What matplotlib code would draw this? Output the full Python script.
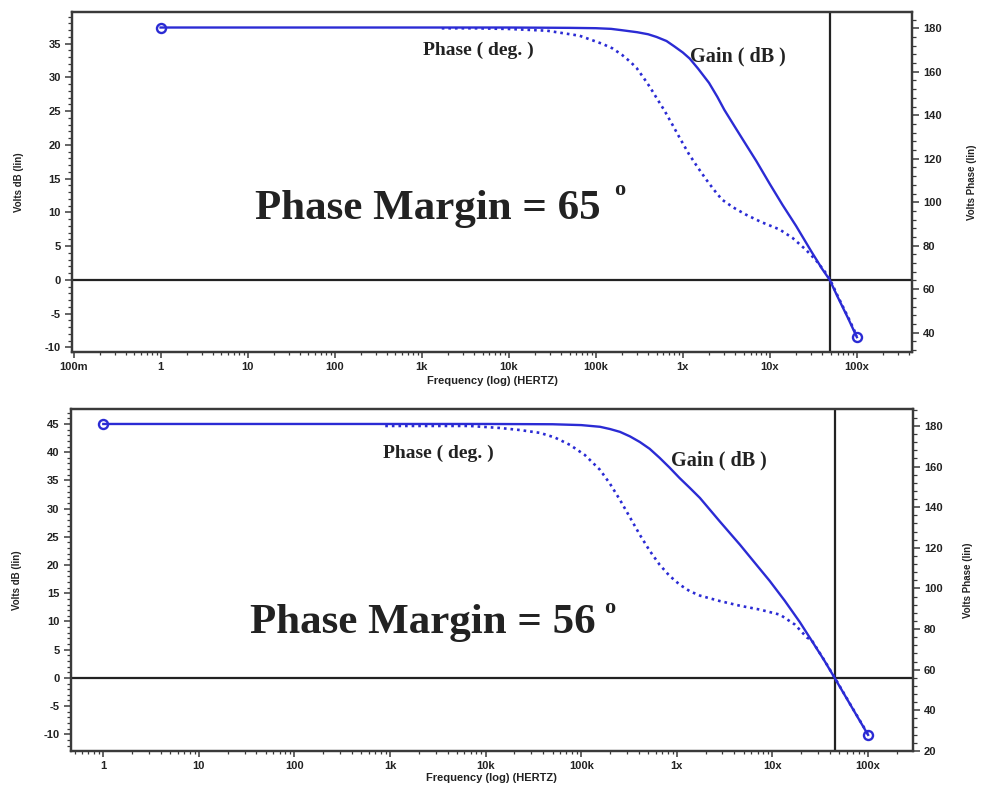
import numpy as np
import matplotlib
matplotlib.use('Agg')
import matplotlib.pyplot as plt
from matplotlib.ticker import FixedLocator, MultipleLocator, LogLocator, NullFormatter, FuncFormatter

plt.rcParams['axes.unicode_minus'] = False

# ---------------- data ----------------
decade_ticks = [0.1, 1, 10, 100, 1e3, 1e4, 1e5, 1e6, 1e7, 1e8]
decade_labels = ['100m', '1', '10', '100', '1k', '10k', '100k', '1x', '10x', '100x']

# top panel
top_gain_freq = [1, 1e3, 1e4, 5e4, 1e5, 1.5e5, 2e5, 3e5, 4e5, 5e5, 6.5e5, 8e5, 1e6, 1.2e6,
                 1.5e6, 2e6, 2.5e6, 3e6, 4e6, 5e6, 7e6, 1e7, 1.4e7, 2e7, 3e7, 4e7, 4.87e7,
                 6e7, 8e7, 1e8]
top_gain_db = [37.4, 37.4, 37.4, 37.35, 37.3, 37.2, 37.0, 36.7, 36.4, 36.0, 35.4, 34.6, 33.7, 32.8,
               31.3, 29.2, 27.1, 25.2, 22.6, 20.6, 17.6, 14.2, 11.1, 8.0, 4.2, 1.6, 0.0,
               -2.5, -5.8, -8.5]
top_phase_freq = [1.7e3, 4e3, 1e4, 2.75e4, 6.5e4, 9e4, 1.2e5, 1.55e5, 2.0e5, 2.51e5, 2.95e5,
                  3.55e5, 4.17e5, 5.01e5, 6.17e5, 7.59e5, 9.33e5, 1.17e6, 1.48e6, 1.86e6,
                  2.29e6, 2.82e6, 3.8e6, 5.25e6, 7.94e6, 1.29e7, 1.82e7, 2.57e7, 3.39e7,
                  4.37e7, 4.87e7, 6e7, 8e7, 1e8]
top_phase_deg = [180.0, 180.0, 179.7, 178.9, 176.6, 174.6, 172.8, 170.8, 167.8, 164.5, 161.7,
                 157.2, 153.1, 147.9, 142.1, 135.7, 129.2, 122.3, 116.1, 110.4,
                 105.6, 101.2, 97.6, 94.4, 90.9, 87.5, 83.6, 78.3, 73.3,
                 67.6, 64.8, 57.0, 46.8, 38.5]
top_crossover = 4.87e7
top_margin = "65"

# bottom panel
bot_gain_freq = [1, 1e3, 1e4, 5e4, 1e5, 1.57e5, 2.0e5, 2.54e5, 3.23e5, 4.1e5, 5.19e5, 6.6e5,
                 8.35e5, 1.07e6, 1.36e6, 1.74e6, 2.82e6, 4.57e6, 6.53e6, 9.34e6, 1.34e7,
                 1.93e7, 2.57e7, 3.45e7, 4.47e7, 6.76e7, 1e8]
bot_gain_db = [45.0, 45.0, 45.0, 44.95, 44.8, 44.5, 44.1, 43.6, 42.8, 41.8, 40.6, 39.0,
               37.3, 35.4, 33.7, 31.9, 27.7, 23.6, 20.4, 17.2, 13.7,
               9.9, 6.6, 3.2, 0.0, -5.2, -10.1]
bot_phase_freq = [890, 6.86e3, 1.41e4, 2.28e4, 3.7e4, 5.3e4, 7.6e4, 1.09e5, 1.57e5, 2.0e5,
                  2.54e5, 3.23e5, 4.1e5, 5.19e5, 6.6e5, 8.35e5, 1.07e6, 1.36e6, 1.74e6,
                  2.82e6, 4.57e6, 7.4e6, 1.2e7, 1.72e7, 2.3e7, 2.57e7, 3.45e7, 4.47e7,
                  6.76e7, 1e8]
bot_phase_deg = [180.0, 180.0, 179.0, 178.0, 176.6, 174.3, 170.7, 165.7, 158.4, 151.5,
                 143.6, 135.0, 126.4, 118.6, 111.7, 106.3, 101.9, 98.7, 96.5,
                 93.8, 91.5, 89.6, 87.1, 82.2, 75.8, 74.6, 65.0, 56.2,
                 41.7, 28.2]
bot_crossover = 4.47e7
bot_margin = "56"

# ---------------- drawing ----------------
W, H = 986, 785
fig = plt.figure(figsize=(W / 100, H / 100), dpi=100)

BLUE = '#2b2bd4'
SPINE = '#3a3a3a'
TXT = '#222222'
SANS = ['Liberation Sans', 'DejaVu Sans']
SERIF = ['Liberation Serif', 'DejaVu Serif']

label_map = dict(zip(decade_ticks, decade_labels))


def fmt_x(v, pos):
    for k, s in label_map.items():
        if abs(np.log10(v) - np.log10(k)) < 1e-6:
            return s
    return ''


def px_rect(l, t, r, b):
    return [l / W, 1 - b / H, (r - l) / W, (b - t) / H]


def panel(rect, xlim, ylim, ylim2, yticks_l, yticks_r,
          gf, gd, pf, pdg, xcross, margin, txt_pos):
    ax = fig.add_axes(rect)
    ax2 = ax.twinx()
    ax.set_xscale('log')
    ax.set_xlim(*xlim)
    ax.set_ylim(*ylim)
    ax2.set_ylim(*ylim2)

    # curves
    ax2.plot(pf, pdg, color=BLUE, lw=1.9, linestyle=(0, (1, 1.5)), zorder=3)
    ax.plot(gf, gd, color=BLUE, lw=1.7, zorder=3, marker='o', markevery=[0, len(gf) - 1],
            markersize=6.5, markerfacecolor='none', markeredgecolor=BLUE, markeredgewidth=1.7)
    ax.axhline(0, color='#222222', lw=1.6, zorder=2)
    ax.axvline(xcross, color='#222222', lw=1.6, zorder=2)

    # ticks
    vis_ticks = [t for t in decade_ticks if xlim[0] <= t <= xlim[1]]
    ax.xaxis.set_major_locator(FixedLocator(vis_ticks))
    ax.xaxis.set_major_formatter(FuncFormatter(fmt_x))
    ax.xaxis.set_minor_locator(LogLocator(base=10, subs=np.arange(2, 10), numticks=30))
    ax.xaxis.set_minor_formatter(NullFormatter())
    ax.yaxis.set_major_locator(FixedLocator(yticks_l))
    ax.yaxis.set_minor_locator(MultipleLocator(1))
    ax2.yaxis.set_major_locator(FixedLocator(yticks_r))
    ax2.yaxis.set_minor_locator(MultipleLocator(4))
    for a in (ax, ax2):
        a.tick_params(which='major', direction='out', length=5, width=1.1, color=SPINE,
                      labelsize=8, labelcolor=TXT, pad=3)
        a.tick_params(which='minor', direction='out', length=2.8, width=0.9, color=SPINE)
        for s in a.spines.values():
            s.set_color(SPINE)
            s.set_linewidth(1.6)
        for lab in a.get_xticklabels() + a.get_yticklabels():
            lab.set_fontfamily(SANS)
            lab.set_fontweight('bold')
    ax.tick_params(axis='x', which='major', length=4, pad=3)
    ax.tick_params(axis='x', which='minor', length=2.5)

    ax.set_ylabel('Volts dB (lin)', fontsize=7, fontweight='bold', family=SANS, color=TXT)
    ax2.set_ylabel('Volts Phase (lin)', fontsize=7, fontweight='bold', family=SANS, color=TXT)
    ax.set_xlabel('Frequency (log) (HERTZ)', fontsize=8, fontweight='bold', family=SANS, color=TXT)
    ax.yaxis.set_label_coords(txt_pos['yl'], 0.5)
    ax2.yaxis.set_label_coords(txt_pos['yr'], 0.5)
    ax.xaxis.set_label_coords(0.5, txt_pos['xl'])

    # annotations
    ax.text(*txt_pos['phase'], 'Phase ( deg. )', transform=ax.transAxes, fontsize=14,
            fontweight='bold', family=SERIF, color=TXT, va='baseline', ha='left')
    ax.text(*txt_pos['gain'], 'Gain ( dB )', transform=ax.transAxes, fontsize=14.5,
            fontweight='bold', family=SERIF, color=TXT, va='baseline', ha='left')
    ax.text(*txt_pos['pm'], 'Phase Margin = ' + margin, transform=ax.transAxes, fontsize=31,
            fontweight='bold', family=SERIF, color=TXT, va='baseline', ha='left')
    ax.text(*txt_pos['deg'], 'o', transform=ax.transAxes, fontsize=16,
            fontweight='bold', family=SERIF, color=TXT, va='baseline', ha='left')
    return ax, ax2


panel(px_rect(72, 12, 912, 352), (0.096, 4.3e8), (-10.7, 39.7), (31.1, 187.5),
      list(range(-10, 40, 5)), list(range(40, 181, 20)),
      top_gain_freq, top_gain_db, top_phase_freq, top_phase_deg, top_crossover, top_margin,
      dict(yl=-0.057, yr=1.0655, xl=-0.07, phase=(0.418, 0.874), gain=(0.736, 0.853),
           pm=(0.218, 0.391), deg=(0.645, 0.462)))

panel(px_rect(70.7, 409.3, 912.7, 751), (0.456, 2.93e8), (-12.96, 47.6), (20, 188.2),
      list(range(-10, 46, 5)), list(range(20, 181, 20)),
      bot_gain_freq, bot_gain_db, bot_phase_freq, bot_phase_deg, bot_crossover, bot_margin,
      dict(yl=-0.058, yr=1.06, xl=-0.065, phase=(0.371, 0.857), gain=(0.713, 0.837),
           pm=(0.213, 0.345), deg=(0.633, 0.404)))

fig.savefig('out.png', dpi=100, facecolor='white')
